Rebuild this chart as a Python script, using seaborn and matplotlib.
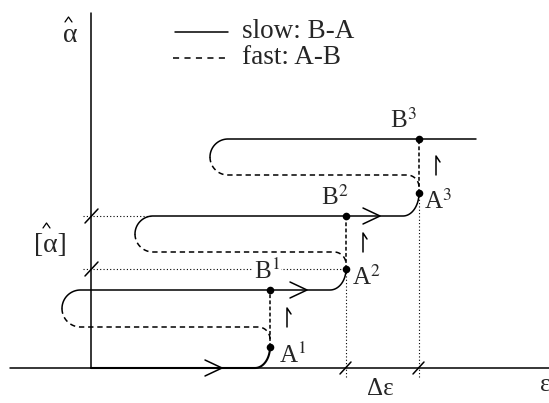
import numpy as np
import matplotlib
matplotlib.use("Agg")
import matplotlib.pyplot as plt
import seaborn as sns

# states A^k / B^k in (eps, alpha-hat) units measured from the origin
eps_AB = [179, 255, 328]
alpha_A = [21, 99, 175]
alpha_B = [78, 152, 229]
alpha_fast = [41, 116, 193]   # level of the dashed (fast) return branch
eps_turn = [-29, 44, 119]     # leftmost point of each turn-back loop
eps_slow_end = 385            # end of the last slow branch
arrow_eps = [131, 216, 289]   # tips of the ">" arrows on the slow branches
arrow_alpha = [0, 78, 152]
labels = ["1", "2", "3"]

sns.set_style("white")
plt.rcParams['font.family'] = ['Liberation Serif', 'DejaVu Serif']
plt.rcParams['mathtext.fontset'] = 'stix'

fig = plt.figure(figsize=(5.49, 4.03), dpi=100)
ax = fig.add_axes([0, 0, 1, 1])
ax.set_xlim(-91, 458)
ax.set_ylim(-35, 368)
ax.axis("off")

K = "black"
LW = 1.1


def draw(xs, ys, **kw):
    sns.lineplot(x=np.asarray(xs, float), y=np.asarray(ys, float), sort=False,
                 estimator=None, color=K, ax=ax, legend=False, **kw)


def quarter(x0, y0, x1, y1, n=25):
    # horizontal at the start, vertical at the end
    t = np.linspace(0, np.pi / 2, n)
    return x0 + (x1 - x0) * np.sin(t), y1 - (y1 - y0) * np.cos(t)


def arc(cx, cy, r, a0, a1, n=30):
    t = np.linspace(a0, a1, n)
    return cx + r * np.cos(t), cy + r * np.sin(t)


# axes
draw([-81, 458], [0, 0], lw=LW)
draw([0, 0], [0, 355], lw=LW)

# first slow branch up to A^1
qx, qy = quarter(eps_AB[0] - 15, 0, eps_AB[0], alpha_A[0])
draw(np.r_[0, qx], np.r_[0, qy], lw=LW + 0.4)

for i in range(3):
    r = (alpha_B[i] - alpha_fast[i]) / 2
    cx = eps_turn[i] + r
    cy = (alpha_B[i] + alpha_fast[i]) / 2
    # slow branch: top of the loop, through B^i, up to A^(i+1)
    ax_, ay_ = arc(cx, cy, r, np.pi, np.pi / 2)
    if i < 2:
        qx, qy = quarter(eps_AB[i + 1] - 16, alpha_B[i], eps_AB[i + 1], alpha_A[i + 1])
    else:
        qx, qy = np.array([eps_slow_end]), np.array([alpha_B[i]])
    draw(np.r_[ax_, qx], np.r_[ay_, qy], lw=LW)
    # fast branch: A^i back to the loop
    bx, by = arc(cx, cy, r, np.pi, 1.5 * np.pi)
    qx, qy = quarter(eps_AB[i] - 12, alpha_fast[i], eps_AB[i], alpha_fast[i] - 12)
    draw(np.r_[bx, qx], np.r_[by, qy], lw=LW, linestyle=(0, (3.5, 2.5)))
    draw([eps_AB[i], eps_AB[i]], [alpha_A[i], alpha_B[i]], lw=LW, linestyle=(0, (2.5, 1.5)))

# dotted guides
DOT = dict(lw=0.8, linestyle=(0, (1, 2)))
draw([-8, eps_turn[1] + 18], [alpha_B[1], alpha_B[1]], **DOT)
draw([-8, eps_AB[1]], [alpha_A[1], alpha_A[1]], **DOT)
for k in (1, 2):
    draw([eps_AB[k], eps_AB[k]], [-9, alpha_A[k]], **DOT)

# slashes on the axes
for a in (alpha_A[1], alpha_B[1]):
    draw([-6, 7], [a - 7, a + 7], lw=LW)
for e in (eps_AB[1], eps_AB[2]):
    draw([e - 6, e + 5], [-6, 6], lw=LW)

# states
sns.scatterplot(x=eps_AB * 2, y=alpha_A + alpha_B, color=K, s=30, ax=ax,
                edgecolor=K, linewidth=0, zorder=5)

# arrows on slow branches
for e, a in zip(arrow_eps, arrow_alpha):
    draw([e - 17, e, e - 17], [a + 8, a, a - 8], lw=LW)
# small harpoons beside the fast jumps
for i in range(3):
    h = eps_AB[i] + 17
    draw([h, h, h + 4], [alpha_fast[i], alpha_fast[i] + 19, alpha_fast[i] + 13], lw=LW)

FS = 18
b_dx = [10, 2, -2]
a_dx = [9, 6, 5]
for i in range(3):
    ax.text(eps_AB[i] + b_dx[i], alpha_B[i] + 11, "B$^{%s}$" % labels[i], fontsize=FS,
            ha="right", va="baseline",
            bbox=dict(facecolor="white", edgecolor="none", pad=0.5))
    ax.text(eps_AB[i] + a_dx[i], alpha_A[i] - 16, "A$^{%s}$" % labels[i], fontsize=FS,
            ha="left", va="baseline")

# axis labels (hats drawn as small carets)
ax.text(-21, 332, "α", fontsize=20, ha="center", va="center")
draw([-26, -22.5, -19], [346, 351, 346], lw=0.9)
ax.text(-41, 122, "[α]", fontsize=20, ha="center", va="center")
draw([-48, -44.5, -41], [140, 145, 140], lw=0.9)
ax.text(289, -21, "Δε", fontsize=FS, ha="center", va="center")
ax.text(449, -17, "ε", fontsize=FS, ha="left", va="center")

# legend
draw([84, 137], [336, 336], lw=LW)
draw([82, 139], [310, 310], lw=LW, linestyle=(0, (4, 3.5)))
ax.text(151, 336, "slow: B-A", fontsize=19.5, ha="left", va="center")
ax.text(151, 310, "fast: A-B", fontsize=19.5, ha="left", va="center")

fig.savefig("out.png", dpi=100)
